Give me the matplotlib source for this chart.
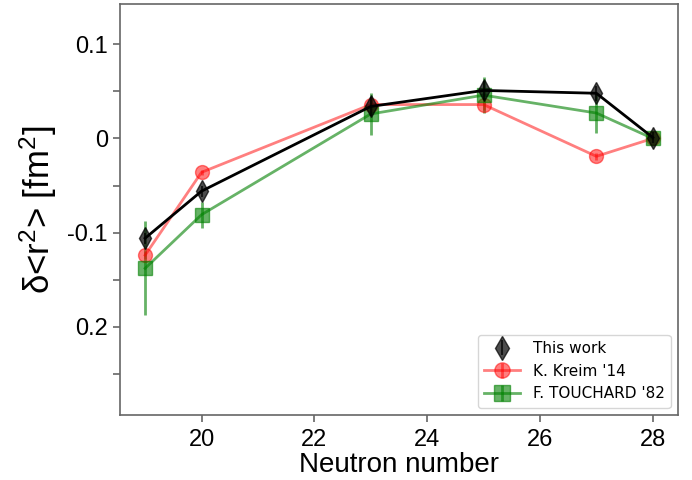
import matplotlib
matplotlib.use("Agg")
import matplotlib.pyplot as plt
from matplotlib.ticker import FixedLocator, FixedFormatter

plt.rcParams['mathtext.fontset'] = 'custom'
plt.rcParams['mathtext.rm'] = 'Liberation Sans'
plt.rcParams['mathtext.it'] = 'Liberation Sans'

# dados
N_this = [19, 20, 23, 25, 27, 28]
dr2_this = [-0.106, -0.056, 0.034, 0.051, 0.048, 0.001]
err_this = [0.006, 0.006, 0.010, 0.010, 0.008, 0.006]

N_kreim = [19, 20, 23, 25, 27, 28]
dr2_kreim = [-0.124, -0.036, 0.036, 0.036, -0.019, 0.0]
err_kreim = [0.004, 0.003, 0.006, 0.006, 0.004, 0.0]

N_touch = [19, 20, 23, 25, 27, 28]
dr2_touch = [-0.138, -0.081, 0.026, 0.046, 0.027, 0.0]
err_touch = [0.050, 0.014, 0.022, 0.019, 0.021, 0.0]

ytick_vals = [0.1, 0.0, -0.1, -0.2]
ytick_labels = ['0.1', '0', '-0.1', '0.2']
yminor_vals = [0.05, -0.05, -0.15, -0.25]
xtick_vals = [20, 22, 24, 26, 28]

fig = plt.figure(figsize=(6.92, 4.8), dpi=100)
ax = fig.add_axes([0.173, 0.135, 0.807, 0.857])

# linha preta (sem legenda)
ax.plot(N_this, dr2_this, color='black', lw=2, zorder=3)
ax.errorbar(N_this, dr2_this, yerr=err_this, fmt='d', color='black', ms=11,
            alpha=0.7, ls='none', label='This work', zorder=4)
ax.errorbar(N_kreim, dr2_kreim, yerr=err_kreim, fmt='o-', color='red', ms=10,
            alpha=0.5, lw=2, label="K. Kreim '14", zorder=2)
ax.errorbar(N_touch, dr2_touch, yerr=err_touch, fmt='s-', color='green', ms=10,
            alpha=0.6, lw=2, label="F. TOUCHARD '82", zorder=2)

ax.set_ylim(-0.294, 0.143)
ax.yaxis.set_major_locator(FixedLocator(ytick_vals))
ax.yaxis.set_major_formatter(FixedFormatter(ytick_labels))
ax.yaxis.set_minor_locator(FixedLocator(yminor_vals))
ax.set_xticks(xtick_vals)

for s in ax.spines.values():
    s.set_color('#666666')
    s.set_linewidth(1.2)
ax.tick_params(which='both', color='#666666', length=5, width=1.2)
ax.tick_params(axis='x', pad=5)
for lab in ax.get_xticklabels() + ax.get_yticklabels():
    lab.set_fontfamily('Liberation Sans')
    lab.set_fontsize(17)

ax.set_xlabel('Neutron number', fontsize=20, family='Liberation Sans', labelpad=1)
ax.set_ylabel(r'δ<r$^2$> [fm$^2$]', fontsize=25, family='Liberation Sans', labelpad=6)

ax.legend(loc='lower right', fontsize=11, handlelength=2.4, markerscale=1.1)

fig.savefig('out.png', dpi=100)
